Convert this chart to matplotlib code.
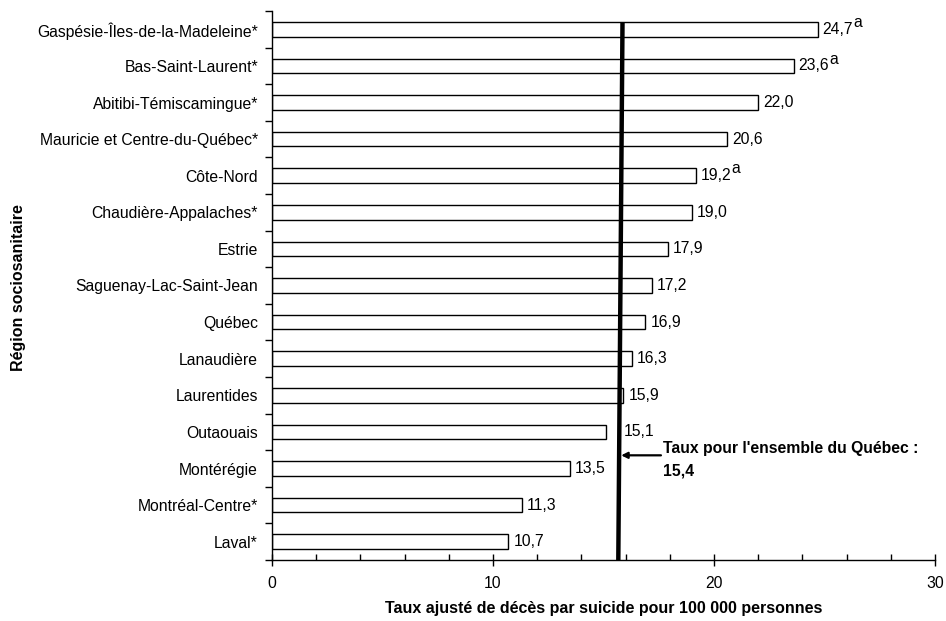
import matplotlib
matplotlib.use("Agg")
import matplotlib.pyplot as plt
from matplotlib.ticker import MultipleLocator

plt.rcParams['font.family'] = ['Liberation Sans', 'DejaVu Sans']

regions = [
    "Gaspésie-Îles-de-la-Madeleine*",
    "Bas-Saint-Laurent*",
    "Abitibi-Témiscamingue*",
    "Mauricie et Centre-du-Québec*",
    "Côte-Nord",
    "Chaudière-Appalaches*",
    "Estrie",
    "Saguenay-Lac-Saint-Jean",
    "Québec",
    "Lanaudière",
    "Laurentides",
    "Outaouais",
    "Montérégie",
    "Montréal-Centre*",
    "Laval*",
]
rates = [24.7, 23.6, 22.0, 20.6, 19.2, 19.0, 17.9, 17.2, 16.9, 16.3, 15.9, 15.1, 13.5, 11.3, 10.7]
labels = ["24,7", "23,6", "22,0", "20,6", "19,2", "19,0", "17,9", "17,2", "16,9", "16,3", "15,9", "15,1", "13,5", "11,3", "10,7"]
superscripts = ["a", "a", "", "", "a", "", "", "", "", "", "", "", "", "", ""]

quebec_rate_label = "15,4"
# reference line as drawn in the picture (slightly slanted)
ref_line_x_bottom = 15.67
ref_line_x_top = 15.86

FS = 11.3

fig = plt.figure(figsize=(9.46, 6.21), dpi=100)
ax = fig.add_axes([272/946, 1 - 560/621, (935-272)/946, (560-11)/621])

n = len(regions)
y = list(range(n))
ax.barh(y, rates, height=0.4, color="white", edgecolor="black", linewidth=1.0, zorder=2)

ax.set_xlim(0, 30)
ax.set_ylim(n - 0.5, -0.5)

# y ticks at category boundaries, labels at centers
ax.set_yticks([i + 0.5 for i in range(-1, n)], minor=False)
ax.set_yticklabels([])
ax.set_yticks(y, minor=True)
ax.set_yticklabels(regions, minor=True, fontsize=FS)
ax.tick_params(axis='y', which='major', direction='out', length=5, width=1)
ax.tick_params(axis='y', which='minor', length=0, pad=10)

ax.xaxis.set_major_locator(MultipleLocator(10))
ax.xaxis.set_minor_locator(MultipleLocator(2))
ax.tick_params(axis='x', which='major', direction='inout', length=9, width=1, labelsize=FS, pad=7)
ax.tick_params(axis='x', which='minor', direction='in', length=4, width=1)

for s in ['top', 'right']:
    ax.spines[s].set_visible(False)
for s in ['left', 'bottom']:
    ax.spines[s].set_linewidth(1.0)

line_top_y = -0.2
line_bot_y = n - 0.5


def line_x_at(yy):
    f = (line_bot_y - yy) / (line_bot_y - line_top_y)
    return ref_line_x_bottom + f * (ref_line_x_top - ref_line_x_bottom)


for i, (v, lab, sup) in enumerate(zip(rates, labels, superscripts)):
    lx = line_x_at(i)
    anchor = v if (v > lx or v < lx - 1.2) else lx
    t = ax.annotate(lab, xy=(anchor, i), xytext=(3.5, 0), textcoords='offset points',
                    va='center', ha='left', fontsize=FS)
    if sup:
        ax.annotate(sup, xy=(1.0, 0.45), xycoords=t, va='bottom', ha='left', fontsize=FS)

# reference line for Québec as a whole
ax.plot([ref_line_x_bottom, ref_line_x_top], [line_bot_y, line_top_y],
        color='black', lw=3.2, solid_capstyle='butt', zorder=3, clip_on=False)

ax.annotate('', xy=(15.8, 11.64), xytext=(17.6, 11.64),
            arrowprops=dict(arrowstyle='-|>', lw=1.6, color='black', mutation_scale=9,
                            shrinkA=0, shrinkB=0))
ax.text(17.7, 11.46, "Taux pour l'ensemble du Québec :", fontsize=FS, fontweight='bold',
        va='center', ha='left')
ax.text(17.7, 12.06, quebec_rate_label, fontsize=FS, fontweight='bold',
        va='center', ha='left')

ax.set_xlabel("Taux ajusté de décès par suicide pour 100 000 personnes",
              fontsize=11.5, fontweight='bold', labelpad=7)
fig.text(18/946, 1 - 288/621, "Région sociosanitaire", rotation=90, fontsize=11.5,
         fontweight='bold', va='center', ha='center')

fig.savefig("out.png", dpi=100)
